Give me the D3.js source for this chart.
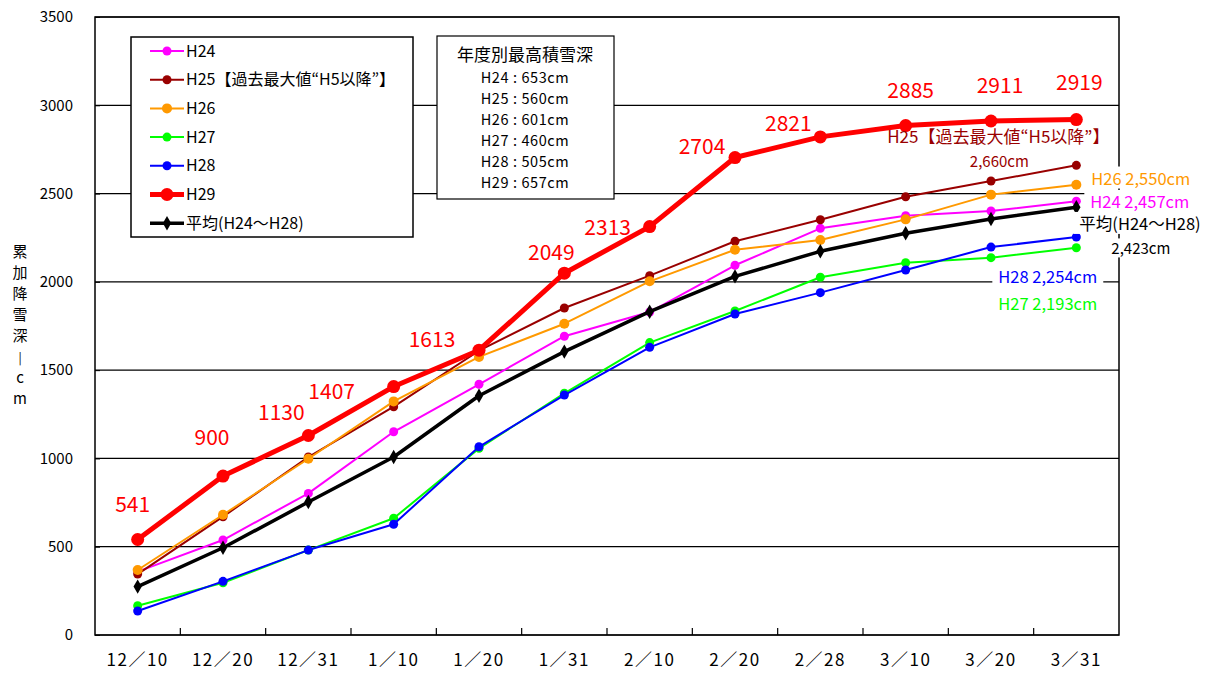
<!DOCTYPE html>
<html>
<head>
<meta charset="utf-8">
<script src="https://cdn.jsdelivr.net/npm/d3@7"></script>
<style>
  body { margin: 0; background: #fff; }
  svg { display: block; }
  text { font-family: "Noto Sans CJK JP", "Liberation Sans", sans-serif; }
</style>
</head>
<body>
<div id="chart"></div>
<script>
// data
const categories = ['12／10', '12／20', '12／31', '1／10', '1／20', '1／31', '2／10', '2／20', '2／28', '3／10', '3／20', '3／31'];
const h24 = [359, 538, 802, 1151, 1420, 1692, 1829, 2094, 2303, 2375, 2401, 2457];
const h25 = [345, 670, 1008, 1293, 1610, 1852, 2035, 2230, 2352, 2482, 2571, 2660];
const h26 = [368, 681, 998, 1323, 1575, 1763, 2003, 2182, 2237, 2354, 2494, 2550];
const h27 = [166, 296, 481, 661, 1057, 1369, 1656, 1835, 2026, 2108, 2137, 2193];
const h28 = [136, 304, 481, 627, 1066, 1359, 1629, 1818, 1939, 2067, 2197, 2254];
const h29 = [541, 900, 1130, 1407, 1613, 2049, 2313, 2704, 2821, 2885, 2911, 2919];
const avg = [274, 494, 753, 1008, 1355, 1605, 1831, 2031, 2173, 2275, 2356, 2423];
const yTicks = [0, 500, 1000, 1500, 2000, 2500, 3000, 3500];
const maxDepth = ['H24 : 653cm', 'H25 : 560cm', 'H26 : 601cm', 'H27 : 460cm', 'H28 : 505cm', 'H29 : 657cm'];

const series = [
  { name: 'H24', values: h24, color: '#ff00ff', width: 2, r: 4.5 },
  { name: 'H25【過去最大値“H5以降”】', values: h25, color: '#990000', width: 2, r: 4.5 },
  { name: 'H26', values: h26, color: '#ff9900', width: 2, r: 5 },
  { name: 'H27', values: h27, color: '#00ff00', width: 2, r: 4.5 },
  { name: 'H28', values: h28, color: '#0000ff', width: 2, r: 4.5 },
  { name: 'H29', values: h29, color: '#ff0000', width: 5, r: 6.5 },
  { name: '平均(H24～H28)', values: avg, color: '#000000', width: 3.5, r: 6, diamond: true },
];

// placement of the red value labels relative to their points
const redLabelOffset = [[-5, -27], [-11, -31], [-27, -15], [-62, 12], [-47, -3], [-13, -13], [-42, 8], [-33, -4], [-32, -6], [5, -28], [9, -28], [3, -30]];

const W = 1221, H = 673;
const margin = { left: 95, top: 17, right: 102, bottom: 38 };
const innerW = W - margin.left - margin.right;
const innerH = H - margin.top - margin.bottom;

const svg = d3.select('#chart').append('svg').attr('width', W).attr('height', H);
const g = svg.append('g').attr('transform', `translate(${margin.left},${margin.top})`);

const x = d3.scaleBand().domain(categories).range([0, innerW]);
const cx = (i) => x(categories[i]) + x.bandwidth() / 2;
const y = d3.scaleLinear().domain([0, 3500]).range([innerH, 0]);

// gridlines
g.selectAll('.grid')
  .data(yTicks)
  .join('line')
  .attr('x1', 0).attr('x2', innerW)
  .attr('y1', (d) => y(d)).attr('y2', (d) => y(d))
  .attr('stroke', '#000').attr('stroke-width', 1.2);

// frame
g.append('rect')
  .attr('width', innerW).attr('height', innerH)
  .attr('fill', 'none').attr('stroke', '#000').attr('stroke-width', 1.5);

// y axis
const yAxis = g.append('g').call(d3.axisLeft(y).tickValues(yTicks).tickFormat(d3.format('d')).tickSize(-5).tickPadding(22));
yAxis.select('.domain').remove();
yAxis.selectAll('text').attr('font-family', '"Liberation Sans", Arial, sans-serif').attr('font-size', 15).attr('fill', '#000');

// x axis
const xAxis = g.append('g').attr('transform', `translate(0,${innerH})`)
  .call(d3.axisBottom(x).tickSize(0).tickPadding(19));
xAxis.select('.domain').remove();
xAxis.selectAll('text').attr('font-size', 17).attr('letter-spacing', 1.5).attr('fill', '#000');
g.selectAll('.xtick')
  .data(categories.slice(1))
  .join('line')
  .attr('x1', (d) => x(d)).attr('x2', (d) => x(d))
  .attr('y1', innerH).attr('y2', innerH - 7)
  .attr('stroke', '#000').attr('stroke-width', 1.2);

// y title, stacked characters
const yTitle = ['累', '加', '降', '雪', '深', '|', 'c', 'm'];
svg.append('g').selectAll('text')
  .data(yTitle)
  .join('text')
  .attr('x', 20)
  .attr('y', (d, i) => 257 + i * 21)
  .attr('text-anchor', 'middle')
  .attr('font-size', (d) => (d === '|' ? 12 : 15))
  .attr('fill', '#000')
  .text((d) => d);

// lines
const line = d3.line().x((d, i) => cx(i)).y((d) => y(d));
const sg = g.selectAll('.series').data(series).join('g');
sg.append('path')
  .attr('d', (s) => line(s.values))
  .attr('fill', 'none')
  .attr('stroke', (s) => s.color)
  .attr('stroke-width', (s) => s.width)
  .attr('stroke-linejoin', 'round');
sg.each(function (s) {
  const sel = d3.select(this);
  if (s.diamond) {
    sel.selectAll('path.m').data(s.values).join('path').attr('class', 'm')
      .attr('d', d3.symbol(d3.symbolDiamond, 60)())
      .attr('transform', (d, i) => `translate(${cx(i)},${y(d)})`)
      .attr('fill', s.color);
  } else {
    sel.selectAll('circle').data(s.values).join('circle')
      .attr('cx', (d, i) => cx(i)).attr('cy', (d) => y(d))
      .attr('r', s.r).attr('fill', s.color);
  }
});

// red value labels
g.selectAll('.redlab')
  .data(h29)
  .join('text')
  .attr('x', (d, i) => cx(i) + redLabelOffset[i][0])
  .attr('y', (d, i) => y(d) + redLabelOffset[i][1])
  .attr('text-anchor', 'middle')
  .attr('font-size', 21)
  .attr('fill', '#ff0000')
  .text((d) => d);

// end labels (offsets from the last point of each series)
const last = categories.length - 1;
const endLabels = [
  { text: 'H25【過去最大値“H5以降”】', v: h25[last], dx: -78, dy: -28, anchor: 'middle', color: '#990000', size: 17, bg: false },
  { text: '2,660cm', v: h25[last], dx: -77, dy: -4, anchor: 'middle', color: '#990000', size: 15, bg: false },
  { text: 'H26 2,550cm', v: h26[last], dx: 15, dy: -6, anchor: 'start', color: '#ff9900', size: 16.5, bg: true },
  { text: 'H24 2,457cm', v: h24[last], dx: 14, dy: 1, anchor: 'start', color: '#ff00ff', size: 16.5, bg: true },
  { text: '平均(H24～H28)', v: avg[last], dx: 3, dy: 17, anchor: 'start', color: '#000000', size: 16.5, bg: true },
  { text: '2,423cm', v: avg[last], dx: 35, dy: 42, anchor: 'start', color: '#000000', size: 15, bg: true },
  { text: 'H28 2,254cm', v: h28[last], dx: -78, dy: 40, anchor: 'start', color: '#0000ff', size: 16.5, bg: true },
  { text: 'H27 2,193cm', v: h27[last], dx: -78, dy: 56, anchor: 'start', color: '#00ff00', size: 16.5, bg: false },
];
endLabels.forEach((l) => {
  const t = svg.append('text')
    .attr('x', margin.left + cx(last) + l.dx)
    .attr('y', margin.top + y(l.v) + l.dy)
    .attr('dy', '0.35em')
    .attr('text-anchor', l.anchor)
    .attr('font-size', l.size)
    .attr('fill', l.color)
    .text(l.text);
  if (l.bg) {
    const b = t.node().getBBox();
    svg.insert('rect', () => t.node())
      .attr('x', b.x - 6).attr('y', b.y + 1)
      .attr('width', b.width + 12).attr('height', b.height - 2)
      .attr('fill', '#fff');
  }
});

// legend
const leg = svg.append('g').attr('transform', 'translate(131,37)');
leg.append('rect').attr('width', 282).attr('height', 200)
  .attr('fill', '#fff').attr('stroke', '#000').attr('stroke-width', 1.5);
const li = leg.selectAll('.li').data(series).join('g')
  .attr('transform', (d, i) => `translate(0,${14 + i * 28.7})`);
li.append('line').attr('x1', 19).attr('x2', 53)
  .attr('stroke', (d) => d.color).attr('stroke-width', (d) => d.width);
li.each(function (s) {
  const sel = d3.select(this);
  if (s.diamond) {
    sel.append('path').attr('d', d3.symbol(d3.symbolDiamond, 60)())
      .attr('transform', 'translate(36,0)').attr('fill', s.color);
  } else {
    sel.append('circle').attr('cx', 36).attr('r', s.r).attr('fill', s.color);
  }
});
li.append('text').attr('x', 55).attr('dy', '0.35em')
  .attr('font-size', 16).attr('fill', '#000')
  .text((d) => d.name);

// max snow depth box
const box = svg.append('g').attr('transform', 'translate(437,36)');
box.append('rect').attr('width', 177).attr('height', 163)
  .attr('fill', '#fff').attr('stroke', '#000').attr('stroke-width', 1.2);
box.append('text').attr('x', 88).attr('y', 19).attr('dy', '0.35em')
  .attr('text-anchor', 'middle').attr('font-size', 17).attr('fill', '#000')
  .text('年度別最高積雪深');
box.selectAll('.md').data(maxDepth).join('text')
  .attr('x', 88).attr('y', (d, i) => 42 + i * 21).attr('dy', '0.35em')
  .attr('text-anchor', 'middle').attr('font-size', 14.5).attr('letter-spacing', 0.6).attr('fill', '#000')
  .text((d) => d);
</script>
</body>
</html>
